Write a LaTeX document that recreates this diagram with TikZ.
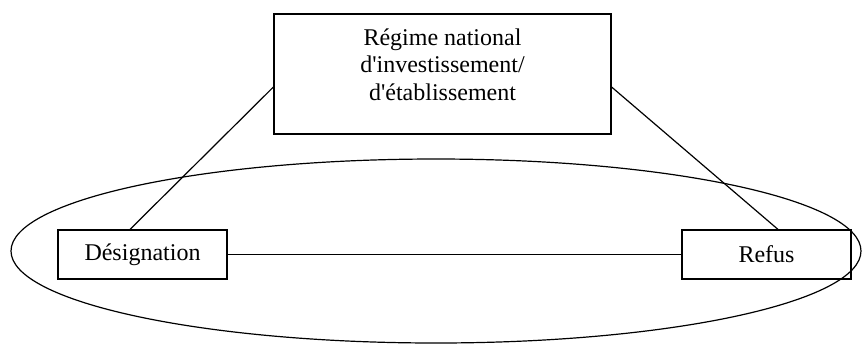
\documentclass[tikz,border=0pt]{standalone}
\usepackage{fontspec}
\setmainfont{Liberation Serif}
\usepackage{tikz}

\begin{document}
\begin{tikzpicture}[x=0.5pt, y=-0.5pt, line width=0.6pt,
        box/.style={draw, inner sep=0pt, font=\fontsize{12}{13.8}\selectfont,
            minimum width=84.5pt, minimum height=24.5pt}]
        \useasboundingbox (0,0) rectangle (862,344);

        \node[box, minimum width=168.5pt, minimum height=60pt] (regime) at (442.5,74)
            {\begin{tabular}{@{}c@{}}Régime national\\d\textquotesingle investissement/\\d\textquotesingle établissement\\[6.9pt]\end{tabular}};
        \node[box] (desig) at (142.5,254.5) {Désignation};
        \node[box] (refus) at (766.5,254.5) {Refus};

        \draw (436,251) ellipse [x radius=212.5pt, y radius=46pt];

        \draw ([yshift=-6.5pt]regime.west) -- ([xshift=-6.25pt]desig.north);
        \draw ([yshift=-6.5pt]regime.east) -- ([xshift=5.75pt]refus.north);
        \draw (desig) -- (refus);
    \end{tikzpicture}
\end{document}
